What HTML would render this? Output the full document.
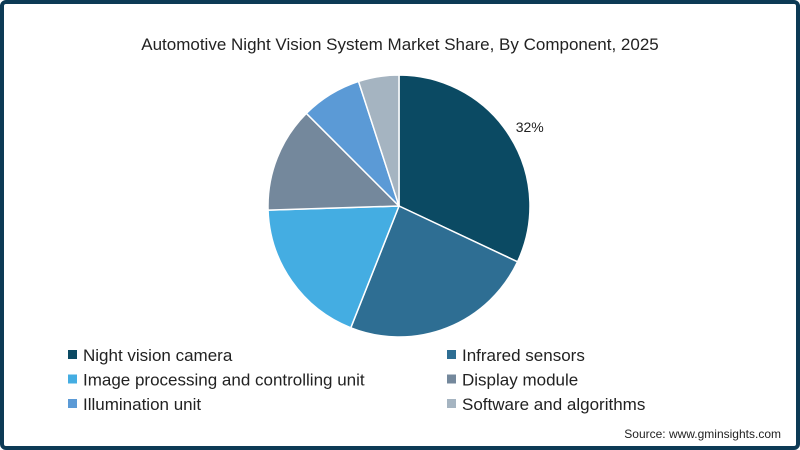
<!DOCTYPE html>
<html><head><meta charset="utf-8"><style>
body{margin:0;width:800px;height:450px;overflow:hidden;background:#fff;font-family:"Liberation Sans",sans-serif}
#frame{position:absolute;left:0;top:0;width:792px;height:442px;border:4px solid #0d3a55;border-radius:6px;background:#fff}
</style></head><body>
<div id="frame"></div>
<svg id="chart" width="800" height="450" style="position:absolute;left:0;top:0">
<text x="400" y="50" text-anchor="middle" font-size="17" fill="#222">Automotive Night Vision System Market Share, By Component, 2025</text>
<g id="slices"></g>
<g id="legend"></g>
<text x="781" y="438" text-anchor="end" font-size="12" fill="#222">Source: www.gminsights.com</text>
</svg>
<script>
const categories=["Night vision camera","Infrared sensors","Image processing and controlling unit","Display module","Illumination unit","Software and algorithms"];
const values=[32,24,18.5,13,7.5,5];
const labels=["32%","","","","",""];
const colors=["#0b4a63","#2e6e93","#44ade2","#74889c","#5b9ad6","#a5b4c1"];
const cx=399,cy=206,r=131;
const ns="http://www.w3.org/2000/svg";
const total=values.reduce((a,b)=>a+b,0);
const g=document.getElementById('slices');
let acc=0;
function pt(a,rr){return [cx+rr*Math.sin(a),cy-rr*Math.cos(a)];}
values.forEach((v,i)=>{
  const a0=acc/total*2*Math.PI; acc+=v; const a1=acc/total*2*Math.PI;
  const p0=pt(a0,r),p1=pt(a1,r);
  const p=document.createElementNS(ns,'path');
  p.setAttribute('d',`M${cx},${cy}L${p0[0]},${p0[1]}A${r},${r} 0 ${a1-a0>Math.PI?1:0} 1 ${p1[0]},${p1[1]}Z`);
  p.setAttribute('fill',colors[i]);p.setAttribute('stroke','#fff');p.setAttribute('stroke-width','1.5');
  
  
  g.appendChild(p);
  if(labels[i]){
    const am=(a0+a1)/2-0.03; const lp=pt(am,r+10);
    const t=document.createElementNS(ns,'text');
    t.setAttribute('x',lp[0]);t.setAttribute('y',lp[1]+5);t.setAttribute('font-size','14');t.setAttribute('fill','#222');
    t.textContent=labels[i];
    
    
    g.appendChild(t);
  }
});
const lg=document.getElementById('legend');
categories.forEach((c,i)=>{
  const x=i%2?447:68, y=355+Math.floor(i/2)*24.5;
  const gg=document.createElementNS(ns,'g');
  
  
  const s=document.createElementNS(ns,'rect');
  s.setAttribute('x',x);s.setAttribute('y',y-5);s.setAttribute('width',9);s.setAttribute('height',9);s.setAttribute('fill',colors[i]);
  const t=document.createElementNS(ns,'text');
  t.setAttribute('x',x+15);t.setAttribute('y',y+6);t.setAttribute('font-size','17');t.setAttribute('fill','#222');
  t.textContent=c;
  gg.appendChild(s);gg.appendChild(t);lg.appendChild(gg);
});
</script>
</body></html>
